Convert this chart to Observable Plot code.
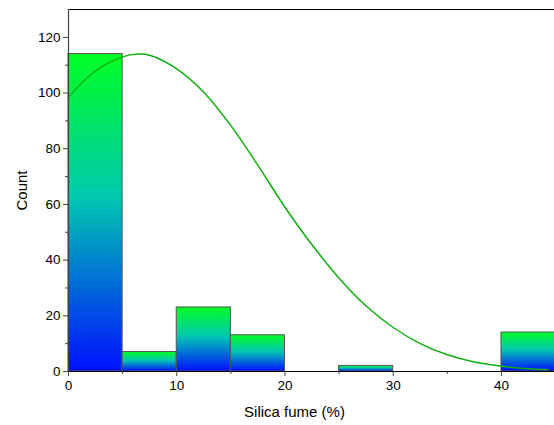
<!DOCTYPE html>
<html>
<head>
<meta charset="utf-8">
<script src="https://cdn.jsdelivr.net/npm/d3@7"></script>
<script src="https://cdn.jsdelivr.net/npm/@observablehq/plot@0.6"></script>
<style>
  html, body { margin: 0; padding: 0; background: #fff; }
</style>
</head>
<body>
<div id="chart"></div>
<script>
// Histogram bins (Silica fume %, lower/upper edge) and counts
const binStart = [0, 5, 10, 15, 20, 25, 30, 35, 40];
const binEnd   = [5, 10, 15, 20, 25, 30, 35, 40, 45];
const counts   = [114, 7, 23, 13, 0, 2, 0, 0, 14];

// Fitted normal curve
const curveX = [0, 2.5, 5, 6.4, 7.5, 10, 12.5, 15, 17.5, 20, 22.5, 25, 27.5, 30, 32.5, 35, 37.5, 40, 42.5, 44.3];
const curveY = [98.5, 108, 113, 114, 113.6, 108.7, 100.3, 88.3, 74, 59, 45.5, 33.5, 23.5, 15.8, 10, 6, 3.4, 1.9, 1.0, 0.6];

const yMajor = [0, 20, 40, 60, 80, 100, 120];
const yMinor = [10, 30, 50, 70, 90, 110];
const xMajor = [0, 10, 20, 30, 40];
const xMinor = [5, 15, 25, 35];

const bars = binStart.map((s, i) => ({x1: s, x2: binEnd[i], y: counts[i]})).filter(d => d.y > 0);
const curve = curveX.map((x, i) => ({x, y: curveY[i]}));

const plot = Plot.plot({
  width: 554,
  height: 425,
  marginLeft: 68,
  marginRight: 0,
  marginTop: 9,
  marginBottom: 54,
  style: {fontFamily: "'Liberation Sans', Arial, sans-serif", fontSize: "13px", color: "#000", background: "#fff"},
  x: {domain: [0, 44.9]},
  y: {domain: [0, 130]},
  marks: [
    Plot.rectY(bars, {x1: "x1", x2: "x2", y: "y", fill: "url(#barGrad)", stroke: "#555", strokeWidth: 1}),
    Plot.line(curve, {x: "x", y: "y", stroke: "#0db00d", strokeWidth: 1.5, curve: "catmull-rom"}),
    Plot.ruleY([130], {stroke: "#000", strokeWidth: 1}),
    Plot.ruleY([0], {stroke: "#000", strokeWidth: 1.2}),
    Plot.ruleX([0], {stroke: "#444", strokeWidth: 1.2}),
    Plot.axisY({ticks: yMajor, tickSize: 5, tickPadding: 3, stroke: "#444", label: "Count", labelAnchor: "center", labelOffset: 52, labelArrow: "none"}),
    Plot.axisY({ticks: yMinor, tickSize: 3, stroke: "#444", text: null, label: null}),
    Plot.axisX({ticks: xMajor, tickSize: 5, tickPadding: 4, stroke: "#444", label: "Silica fume (%)", labelAnchor: "center", labelOffset: 45, labelArrow: "none"}),
    Plot.axisX({ticks: xMinor, tickSize: 3, stroke: "#444", text: null, label: null})
  ]
});

const svg = d3.select(plot);
const defs = svg.insert("defs", ":first-child");
const g = defs.append("linearGradient").attr("id", "barGrad")
  .attr("x1", 0).attr("y1", 0).attr("x2", 0).attr("y2", 1);
g.append("stop").attr("offset", "0%").attr("stop-color", "#00ff22");
g.append("stop").attr("offset", "45%").attr("stop-color", "#00c8b0");
g.append("stop").attr("offset", "100%").attr("stop-color", "#0010ff");

svg.selectAll("text").style("font-size", "13.5px");
svg.selectAll("[aria-label$='axis label'] text").style("font-size", "15px");
svg.selectAll("[aria-label='x-axis label'] text").attr("dx", -17);

document.getElementById("chart").appendChild(plot);
</script>
</body>
</html>
